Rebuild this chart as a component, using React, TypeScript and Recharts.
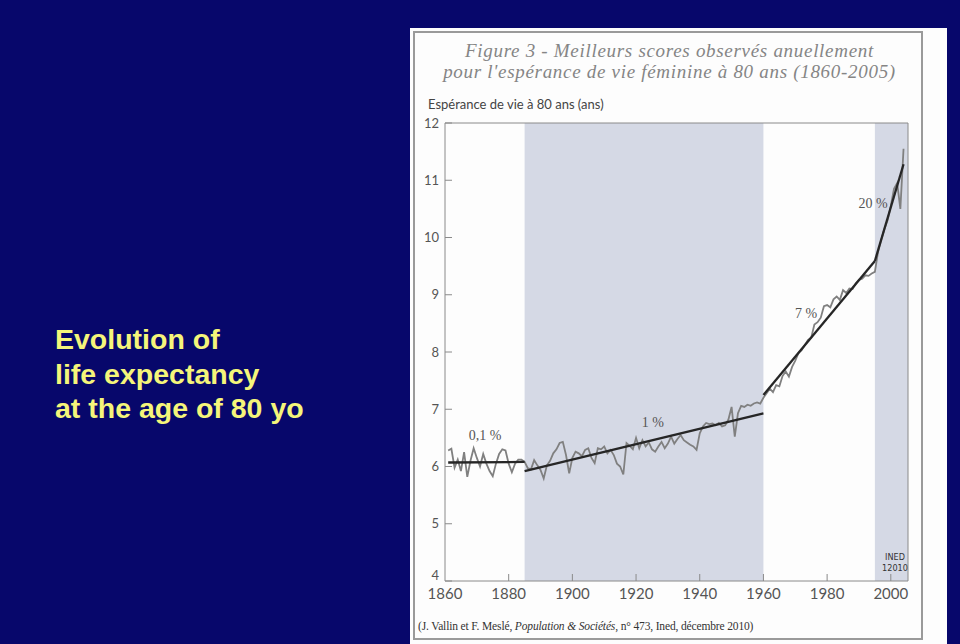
import { ComposedChart, Line, XAxis, YAxis, ReferenceArea, ReferenceDot } from "recharts";

// annual best female life expectancy at 80 (years)
const firstYear = 1861;
const bestScores = [
  6.28, 6.31, 5.98, 6.12, 5.92, 6.25, 5.82, 6.1, 6.32, 6.15,
  6.0, 6.22, 6.05, 5.92, 5.83, 6.05, 6.22, 6.3, 6.28, 6.05,
  5.9, 6.05, 6.12, 6.12, 6.08, 5.97, 5.95, 6.11, 6.02, 5.94,
  5.79, 6.02, 6.1, 6.23, 6.3, 6.41, 6.43, 6.2, 5.88, 6.15,
  6.26, 6.23, 6.18, 6.29, 6.32, 6.15, 6.06, 6.32, 6.3, 6.35,
  6.23, 6.29, 6.2, 6.05, 6.0, 5.86, 6.41, 6.36, 6.3, 6.5,
  6.32, 6.46, 6.35, 6.42, 6.3, 6.26, 6.35, 6.43, 6.32, 6.4,
  6.52, 6.4, 6.48, 6.55, 6.46, 6.42, 6.38, 6.35, 6.29, 6.58,
  6.7, 6.76, 6.74, 6.75, 6.72, 6.76, 6.7, 6.72, 6.82, 7.04,
  6.52, 6.93, 7.06, 7.04, 7.08, 7.06, 7.1, 7.12, 7.1, 7.2,
  7.28, 7.36, 7.3, 7.42, 7.4, 7.58, 7.66, 7.57, 7.74, 7.85,
  7.98, 8.03, 8.12, 8.21, 8.25, 8.48, 8.52, 8.6, 8.8, 8.82,
  8.78, 8.92, 8.97, 8.91, 9.08, 9.03, 9.11, 9.1, 9.2, 9.26,
  9.28, 9.34, 9.33, 9.37, 9.4, 9.75, 9.96, 10.15, 10.3, 10.55,
  10.85, 10.95, 10.5, 11.55,
];

// fitted trends (start / end year and value) with their growth labels
const trendLabels = ["0,1 %", "1 %", "7 %", "20 %"];
const trendFromYear = [1861, 1885, 1960, 1995];
const trendToYear = [1885, 1960, 1995, 2004];
const trendFromValue = [6.07, 5.92, 7.25, 9.59];
const trendToValue = [6.08, 6.93, 9.59, 11.28];
const trendLabelYear = [1872.6, 1925.3, 1973.4, 1994.4];
const trendLabelValue = [6.55, 6.78, 8.68, 10.6];

const shadedFrom = [1885, 1995];
const shadedTo = [1960, 2005.4];

const yearTicks = [1860, 1880, 1900, 1920, 1940, 1960, 1980, 2000];
const valueTicks = [4, 5, 6, 7, 8, 9, 10, 11, 12];

const table = bestScores.map((v, i) => {
  const year = firstYear + i;
  const row: any = { year, value: v };
  trendFromYear.forEach((y0, k) => {
    if (year === y0) row["t" + k] = trendFromValue[k];
    if (year === trendToYear[k]) row["t" + k] = trendToValue[k];
  });
  return row;
});

const navy = "#07076b";
const axisColor = "#8a8a8a";
const sans = "Lato, 'Open Sans', sans-serif";
const serif = "'Liberation Serif', 'DejaVu Serif', serif";

const LeftTick = (props: any) => {
  const { x, y, payload } = props;
  const ax = x + 6;
  // the bottom label sits a little higher so it clears the year labels
  const ty = payload.value === 4 ? y - 6 : y;
  return (
    <g>
      <line x1={ax} x2={ax + 7} y1={y} y2={y} stroke={axisColor} />
      <text x={x} y={ty} dy="0.35em" textAnchor="end" fontSize={13} fill="#555" fontFamily={sans}>
        {payload.value}
      </text>
    </g>
  );
};

const RightTick = (props: any) => {
  const { x, y, payload } = props;
  if (payload.value === 4 || payload.value === 12) return <g />;
  return <line x1={x - 8} x2={x} y1={y} y2={y} stroke={axisColor} />;
};

const BottomTick = (props: any) => {
  const { x, y, payload } = props;
  return (
    <g>
      {payload.value !== 1860 && <line x1={x} x2={x} y1={y - 7} y2={y} stroke={axisColor} />}
      <text x={x} y={y + 13} dy="0.35em" textAnchor="middle" fontSize={15} fill="#555" fontFamily={sans}>
        {payload.value}
      </text>
    </g>
  );
};

const TopTick = (props: any) => {
  const { x, y, payload } = props;
  if (payload.value === 1860) return <g />;
  return <line x1={x} x2={x} y1={y} y2={y + 7} stroke={axisColor} />;
};

const titleStyle: any = {
  position: "absolute",
  left: 410,
  width: 519,
  textAlign: "center",
  fontFamily: serif,
  fontStyle: "italic",
  fontSize: 19,
  letterSpacing: 0.7,
  lineHeight: "21px",
  color: "#858585",
  whiteSpace: "nowrap",
};

export default function App() {
  return (
    <div style={{ position: "absolute", left: 0, top: 0, width: 960, height: 644, background: navy, overflow: "hidden" }}>
      <div
        style={{
          position: "absolute",
          left: 55,
          top: 322,
          color: "#f5f57a",
          fontFamily: "'Liberation Sans', Arial, sans-serif",
          fontWeight: "bold",
          fontSize: 28.5,
          lineHeight: "34.5px",
          whiteSpace: "nowrap",
        }}
      >
        Evolution of
        <br />
        life expectancy
        <br />
        at the age of 80 yo
      </div>

      <div style={{ position: "absolute", left: 410, top: 28, width: 537, height: 616, background: "#fdfdfd" }} />
      <div
        style={{
          position: "absolute",
          left: 413,
          top: 31,
          width: 506,
          height: 605,
          border: "2px solid #9a9a9a",
        }}
      />

      <div style={{ ...titleStyle, top: 39.5 }}>Figure 3 - Meilleurs scores observés anuellement</div>
      <div style={{ ...titleStyle, top: 60.5 }}>pour l'espérance de vie féminine à 80 ans (1860-2005)</div>

      <div
        style={{
          position: "absolute",
          left: 428,
          top: 96,
          fontFamily: sans,
          fontSize: 13,
          lineHeight: "16px",
          color: "#444",
          whiteSpace: "nowrap",
        }}
      >
        Espérance de vie à 80 ans (ans)
      </div>

      <div style={{ position: "absolute", left: 400, top: 100 }}>
        <ComposedChart width={540} height={520} data={table} margin={{ top: 13, right: 12, bottom: 9, left: 0 }}>
          {shadedFrom.map((x1, i) => (
            <ReferenceArea
              key={"s" + i}
              xAxisId="x"
              yAxisId="y"
              x1={x1}
              x2={shadedTo[i]}
              fill="#d5d9e5"
              fillOpacity={1}
              stroke="none"
              ifOverflow="visible"
            />
          ))}
          <XAxis
            xAxisId="x"
            dataKey="year"
            type="number"
            domain={[1860, 2005.4]}
            allowDataOverflow
            ticks={yearTicks}
            height={30}
            tickSize={0}
            tickMargin={0}
            tickLine={false}
            axisLine={{ stroke: axisColor }}
            tick={<BottomTick />}
            interval={0}
          />
          <XAxis
            xAxisId="top"
            orientation="top"
            type="number"
            domain={[1860, 2005.4]}
            allowDataOverflow
            ticks={yearTicks}
            height={10}
            tickSize={0}
            tickMargin={0}
            tickLine={false}
            axisLine={{ stroke: axisColor }}
            tick={<TopTick />}
            interval={0}
          />
          <YAxis
            yAxisId="y"
            type="number"
            domain={[4, 12]}
            ticks={valueTicks}
            width={45}
            tickSize={0}
            tickMargin={6}
            tickLine={false}
            axisLine={{ stroke: axisColor }}
            tick={<LeftTick />}
            interval={0}
          />
          <YAxis
            yAxisId="right"
            orientation="right"
            type="number"
            domain={[4, 12]}
            ticks={valueTicks}
            width={20}
            tickSize={0}
            tickMargin={0}
            tickLine={false}
            axisLine={{ stroke: axisColor }}
            tick={<RightTick />}
            interval={0}
          />
          <Line
            xAxisId="x"
            yAxisId="y"
            type="linear"
            dataKey="value"
            stroke="#808080"
            strokeWidth={1.8}
            dot={false}
            isAnimationActive={false}
          />
          {trendLabels.map((_, k) => (
            <Line
              key={"t" + k}
              xAxisId="x"
              yAxisId="y"
              type="linear"
              dataKey={"t" + k}
              stroke="#262626"
              strokeWidth={2.3}
              dot={false}
              connectNulls
              isAnimationActive={false}
            />
          ))}
          {trendLabels.map((label, k) => (
            <ReferenceDot
              key={"l" + k}
              xAxisId="x"
              yAxisId="y"
              x={trendLabelYear[k]}
              y={trendLabelValue[k]}
              r={0}
              stroke="none"
              fill="none"
              label={{ value: label, position: "center", fill: "#555", fontSize: 14, fontFamily: serif }}
            />
          ))}
        </ComposedChart>
      </div>

      <div
        style={{
          position: "absolute",
          left: 880,
          top: 551.5,
          width: 30,
          textAlign: "center",
          fontFamily: "'Liberation Sans Narrow', 'DejaVu Sans Condensed', sans-serif",
          fontSize: 9,
          lineHeight: "11px",
          color: "#333",
        }}
      >
        INED
        <br />
        12010
      </div>

      <div
        style={{
          position: "absolute",
          left: 418,
          top: 618,
          fontFamily: serif,
          fontSize: 11.5,
          letterSpacing: -0.15,
          lineHeight: "16px",
          color: "#333",
          whiteSpace: "nowrap",
        }}
      >
        (J. Vallin et F. Meslé, <i>Population &amp; Sociétés</i>, n° 473, Ined, décembre 2010)
      </div>
    </div>
  );
}
